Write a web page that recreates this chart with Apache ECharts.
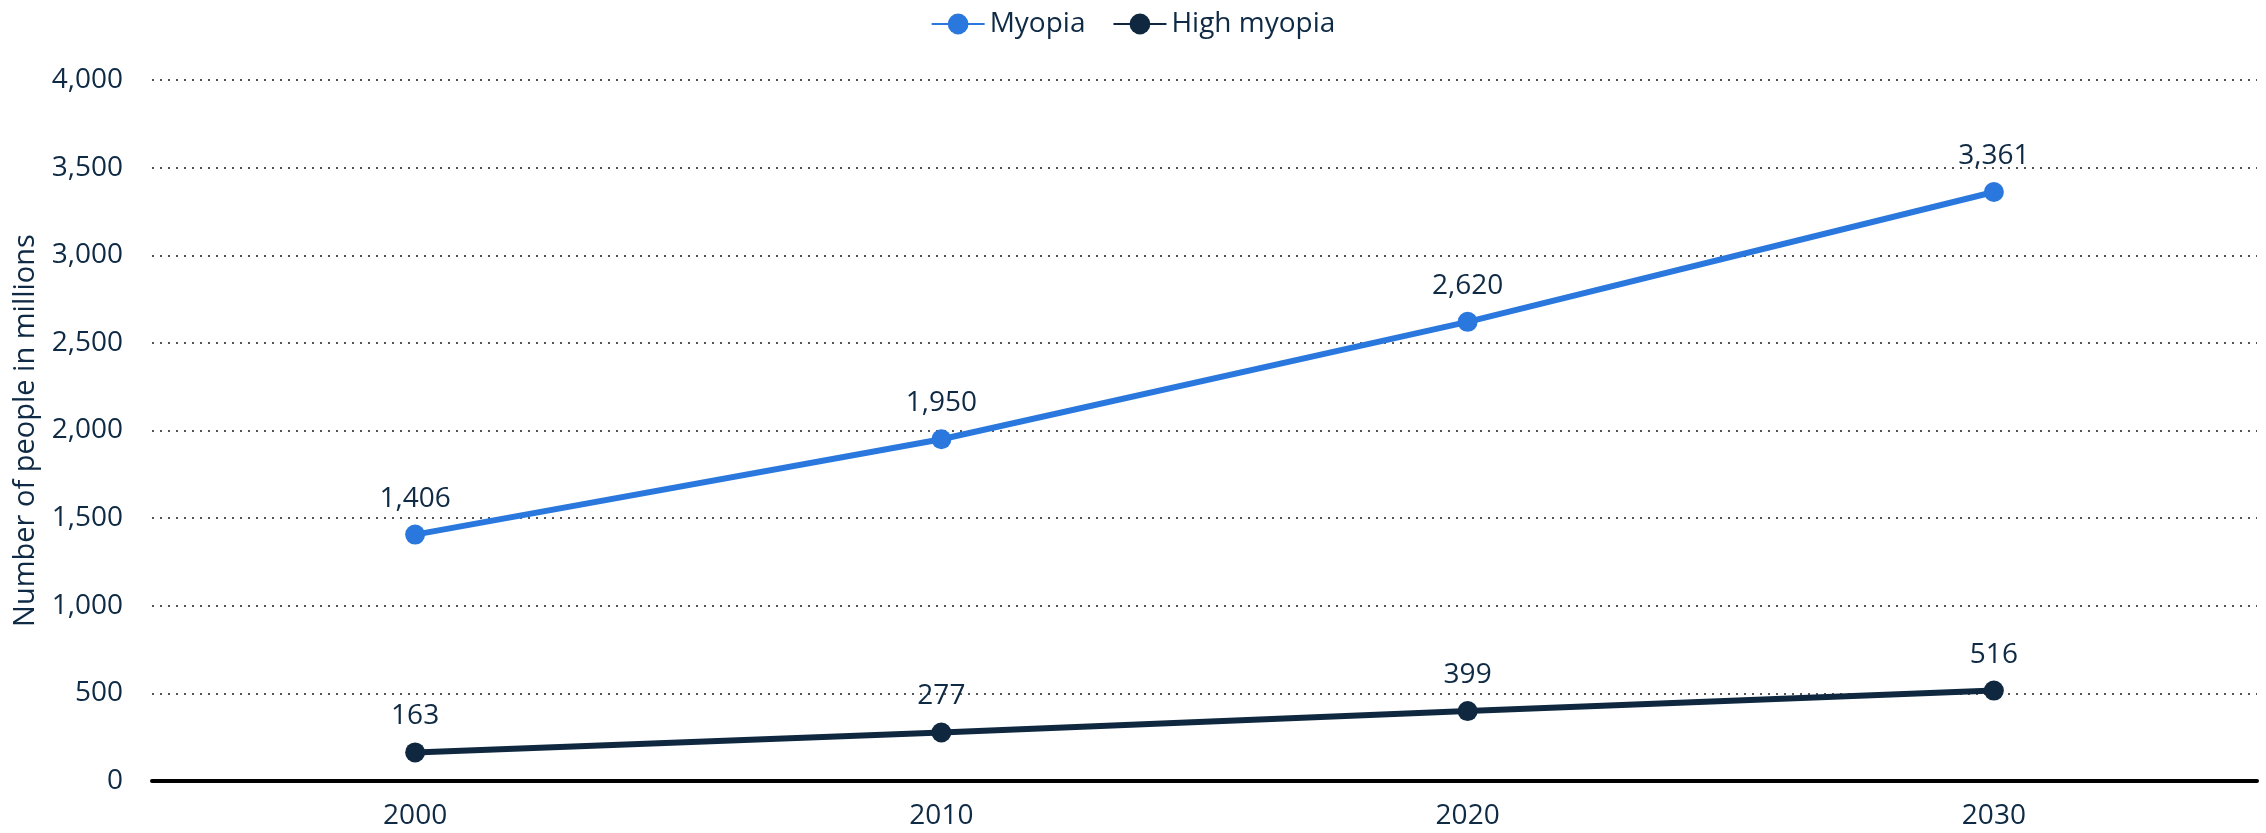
<!DOCTYPE html>
<html>
<head>
<meta charset="utf-8">
<script src="https://cdn.jsdelivr.net/npm/echarts@6/dist/echarts.min.js"></script>
<style>
html, body { margin: 0; padding: 0; background: #fff; }
#chart { width: 2266px; height: 833px; }
</style>
</head>
<body>
<div id="chart"></div>
<script>
// data
var years = ['2000', '2010', '2020', '2030'];
var myopia = [1406, 1950, 2620, 3361];
var highMyopia = [163, 277, 399, 516];

var textColor = '#0f2a44';
var fmt = function (v) { return v.toLocaleString('en-US'); };

var myChart = echarts.init(document.getElementById('chart'));
var myoption = {
    textStyle: { fontFamily: 'Open Sans' },
    legend: {
        top: 5,
        left: 'center',
        itemWidth: 53,
        itemHeight: 26,
        itemGap: 27,
        textStyle: { fontSize: 28, color: textColor, fontFamily: 'Open Sans' },
        data: ['Myopia', 'High myopia']
    },
    grid: { left: 152, right: 9, top: 80, bottom: 52, containLabel: false },
    xAxis: {
        type: 'category',
        data: years,
        boundaryGap: true,
        axisLine: { lineStyle: { color: '#000', width: 4 } },
        axisTick: { show: false },
        axisLabel: { fontSize: 28, color: textColor, margin: 21, fontFamily: 'Open Sans' }
    },
    yAxis: {
        type: 'value',
        min: 0,
        max: 4000,
        interval: 500,
        name: 'Number of people in millions',
        nameLocation: 'middle',
        nameGap: 112,
        nameTextStyle: { fontSize: 29, color: textColor, fontFamily: 'Open Sans' },
        axisLine: { show: false },
        axisTick: { show: false },
        axisLabel: { fontSize: 28, color: textColor, margin: 29, formatter: fmt, fontFamily: 'Open Sans' },
        splitLine: { lineStyle: { color: '#555', width: 2, type: [2, 6] } }
    },
    series: [{
        name: 'Myopia',
        type: 'line',
        data: myopia,
        color: '#2a78de',
        symbol: 'circle',
        symbolSize: 20,
        lineStyle: { width: 6 },
        label: {
            show: true, position: 'top', distance: 12,
            fontSize: 28, color: textColor, formatter: function (p) { return fmt(p.value); }
        }
    }, {
        name: 'High myopia',
        type: 'line',
        data: highMyopia,
        color: '#0f2840',
        symbol: 'circle',
        symbolSize: 20,
        lineStyle: { width: 6 },
        label: {
            show: true, position: 'top', distance: 12,
            fontSize: 28, color: textColor, formatter: function (p) { return fmt(p.value); }
        }
    }]
};
myChart.setOption(myoption);

window.onresize = function () {
    myChart.resize();
};
</script>
</body>
</html>
